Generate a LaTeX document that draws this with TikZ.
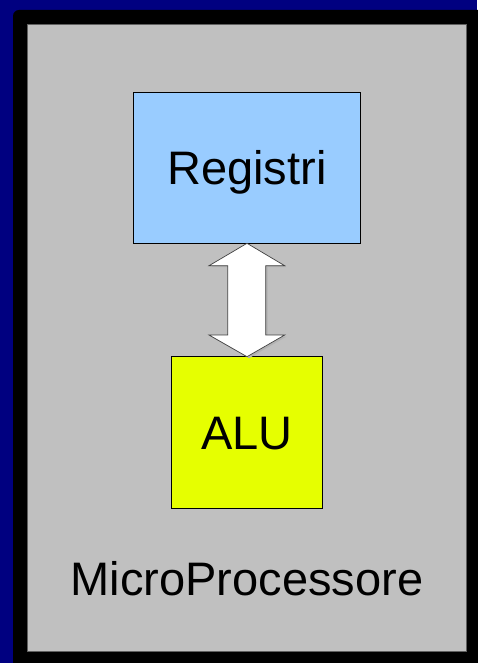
\documentclass[tikz,border=0pt]{standalone}
\usepackage{fontspec}
\setmainfont{Liberation Sans}
\usetikzlibrary{calc}
\definecolor{navybg}{RGB}{0,0,128}
\definecolor{panelgray}{RGB}{192,192,192}
\definecolor{regblue}{RGB}{153,204,255}
\definecolor{aluyellow}{RGB}{230,255,0}
\begin{document}
\begin{tikzpicture}[x=1pt,y=-1pt,
  boxstyle/.style={draw=black,line width=0.9pt,inner sep=0pt,outer sep=0pt},
  lbl/.style={inner sep=0pt,anchor=base,font=\fontsize{47}{50}\selectfont,text=black}]
\useasboundingbox (0,0) rectangle (477,663);
\fill[navybg] (0,0) rectangle (477,663);
\fill[black,rounded corners=6pt] (13,10) rectangle (500,690);
\filldraw[fill=panelgray,draw=gray!75!black,line width=0.8pt] (27,24) rectangle (466,651);
% boxes
\node[boxstyle,fill=regblue,minimum width=227.4pt,minimum height=151pt] (reg) at (247,167.8) {};
\node[boxstyle,fill=aluyellow,minimum width=151.4pt,minimum height=151.6pt] (alu) at (247,432.5) {};
\node[lbl] (regt) at (247,184) {Registri};
\node[lbl] (alut) at (247,449) {ALU};
\node[lbl] (mp) at (247,595) {MicroProcessore};
% double arrow between the boxes
\coordinate (top) at (reg.south);
\coordinate (bot) at (alu.north);
\fill[gray!60] ($(top)+(2,1.5)$) -- ++(37.7,22.4) -- ++(-19,0) -- ++(0,69.3) -- ++(19,0)
  -- ($(bot)+(2,1.5)$) -- ++(-38,-21.7) -- ++(18.7,0) -- ++(0,-69.3) -- ++(-18.7,0) -- cycle;
\filldraw[fill=white,draw=black!75,line width=0.7pt,line join=miter]
  (top) -- ++(37.7,22.4) -- ++(-19,0) -- ++(0,69.3) -- ++(19,0)
  -- (bot) -- ++(-38,-21.7) -- ++(18.7,0) -- ++(0,-69.3) -- ++(-18.7,0) -- cycle;
\end{tikzpicture}
\end{document}
